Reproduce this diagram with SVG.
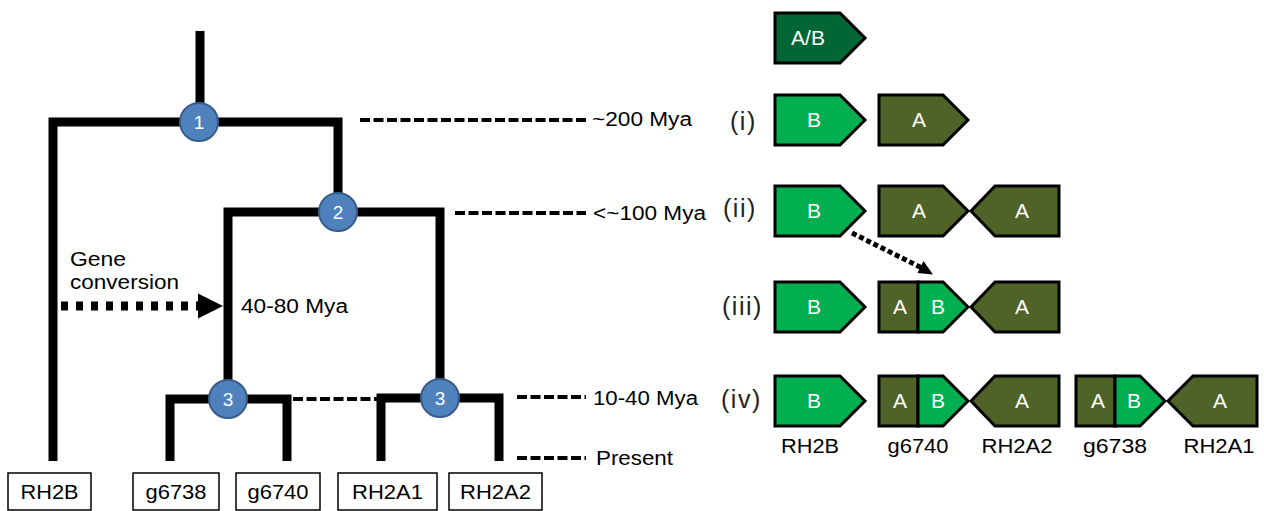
<svg xmlns="http://www.w3.org/2000/svg" width="1264" height="511" viewBox="0 0 1264 511">
<defs>
<style>
.br{fill:none;stroke:#000;stroke-width:9;stroke-linejoin:miter;stroke-linecap:butt}
.dash{fill:none;stroke:#000;stroke-width:4;stroke-dasharray:10 3.5}
.node circle{fill:#4F81BD;stroke:#385D8A;stroke-width:2}
.num{font-family:"Liberation Sans",Arial,sans-serif;font-size:19px;fill:#fff;text-anchor:middle}
.t{font-family:"Liberation Sans",Arial,sans-serif;font-size:20px;fill:#000}
.rn{font-family:"Liberation Sans",Arial,sans-serif;font-size:25px;fill:#222;letter-spacing:1.5px}
.box rect{fill:#fff;stroke:#000;stroke-width:1.5}
.bt{font-family:"Liberation Sans",Arial,sans-serif;font-size:20px;fill:#000;text-anchor:middle}
.g{stroke:#000;stroke-width:3;stroke-linejoin:miter}
.ab{fill:#006633}
.b{fill:#00B050}
.a{fill:#4F6228}
.gt{font-family:"Liberation Sans",Arial,sans-serif;font-size:21px;fill:#fff;text-anchor:middle}
</style>
</defs>
<rect width="1264" height="511" fill="#fff"/>

<g id="connectors">
<path class="br" d="M200,31 V122"/>
<path class="br" d="M53,461 V122 H338 V212"/>
<path class="br" d="M228,399 V212 H440 V398"/>
<path class="br" d="M170,461 V399 H287 V461"/>
<path class="br" d="M381,461 V398 H499 V461"/>
<path class="dash" d="M360,120 H588"/>
<path class="dash" d="M455,213 H586"/>
<path class="dash" d="M293,399 H377"/>
<path class="dash" d="M517,397 H586"/>
<path class="dash" d="M517,458 H586"/>
<path d="M58,306 H198" fill="none" stroke="#000" stroke-width="9" stroke-dasharray="7 8" stroke-dashoffset="-3"/>
<polygon points="198,293.5 223,306 198,318.5" fill="#000"/>
<path d="M852,233 L922,268" fill="none" stroke="#000" stroke-width="5" stroke-dasharray="5 3"/>
<polygon points="933,274.5 917.5,273 923.5,261" fill="#000"/>
</g>

<g id="node1" class="node"><circle cx="199" cy="122" r="19"/><text class="num" x="199" y="129">1</text></g>
<g id="node2" class="node"><circle cx="338" cy="212" r="19"/><text class="num" x="338" y="219">2</text></g>
<g id="node3a" class="node"><circle cx="228" cy="399" r="19"/><text class="num" x="228" y="406">3</text></g>
<g id="node3b" class="node"><circle cx="440" cy="398" r="19"/><text class="num" x="440" y="405">3</text></g>

<g id="labels-tree">
<text class="t" x="70" y="266" textLength="56" lengthAdjust="spacingAndGlyphs">Gene</text>
<text class="t" x="70" y="289" textLength="109" lengthAdjust="spacingAndGlyphs">conversion</text>
<text class="t" x="241" y="313" textLength="107" lengthAdjust="spacingAndGlyphs">40-80 Mya</text>
<text class="t" x="592" y="126" textLength="100" lengthAdjust="spacingAndGlyphs">~200 Mya</text>
<text class="t" x="593" y="220" textLength="113" lengthAdjust="spacingAndGlyphs">&lt;~100 Mya</text>
<text class="t" x="593" y="405" textLength="105" lengthAdjust="spacingAndGlyphs">10-40 Mya</text>
<text class="t" x="596" y="465" textLength="77" lengthAdjust="spacingAndGlyphs">Present</text>
<text class="rn" x="730" y="130">(i)</text>
<text class="rn" x="723" y="217">(ii)</text>
<text class="rn" x="722" y="315">(iii)</text>
<text class="rn" x="721" y="408">(iv)</text>
</g>

<g id="box-RH2B" class="box"><rect x="8" y="473" width="83" height="37"/><text class="bt" x="49.5" y="499" textLength="58" lengthAdjust="spacingAndGlyphs">RH2B</text></g>
<g id="box-g6738" class="box"><rect x="133" y="473" width="86" height="37"/><text class="bt" x="176" y="499" textLength="61" lengthAdjust="spacingAndGlyphs">g6738</text></g>
<g id="box-g6740" class="box"><rect x="236" y="473" width="84" height="37"/><text class="bt" x="278" y="499" textLength="61" lengthAdjust="spacingAndGlyphs">g6740</text></g>
<g id="box-RH2A1" class="box"><rect x="338" y="473" width="99" height="37"/><text class="bt" x="387.5" y="499" textLength="71" lengthAdjust="spacingAndGlyphs">RH2A1</text></g>
<g id="box-RH2A2" class="box"><rect x="449" y="473" width="93" height="37"/><text class="bt" x="495.5" y="499" textLength="71" lengthAdjust="spacingAndGlyphs">RH2A2</text></g>

<g id="gene-AB">
<path class="g ab" d="M775,13 H840 L865,38 L840,63 H775 Z"/>
<text class="gt" x="808" y="45">A/B</text>
</g>

<g id="row-i">
<path class="g b" d="M775,95 H840 L865,120 L840,145 H775 Z"/>
<text class="gt" x="814" y="127">B</text>
<path class="g a" d="M879,95 H943 L968,120 L943,145 H879 Z"/>
<text class="gt" x="919" y="127">A</text>
</g>

<g id="row-ii">
<path class="g b" d="M775,186 H840 L865,211 L840,236 H775 Z"/>
<text class="gt" x="814" y="218">B</text>
<path class="g a" d="M879,186 H943 L968,211 L943,236 H879 Z"/>
<text class="gt" x="919" y="218">A</text>
<path class="g a" d="M1059,186 H995 L971,211 L995,236 H1059 Z"/>
<text class="gt" x="1022" y="218">A</text>
</g>

<g id="row-iii">
<path class="g b" d="M775,282 H840 L865,307 L840,332 H775 Z"/>
<text class="gt" x="814" y="314">B</text>
<path class="g a" d="M879,282 H918 V332 H879 Z"/>
<path class="g b" d="M918,282 H943 L968,307 L943,332 H918 Z"/>
<text class="gt" x="900" y="314">A</text>
<text class="gt" x="938" y="314">B</text>
<path class="g a" d="M1059,282 H995 L971,307 L995,332 H1059 Z"/>
<text class="gt" x="1022" y="314">A</text>
</g>

<g id="row-iv">
<path class="g b" d="M775,376 H840 L865,401 L840,426 H775 Z"/>
<text class="gt" x="814" y="408">B</text>
<path class="g a" d="M879,376 H918 V426 H879 Z"/>
<path class="g b" d="M918,376 H943 L968,401 L943,426 H918 Z"/>
<text class="gt" x="900" y="408">A</text>
<text class="gt" x="938" y="408">B</text>
<path class="g a" d="M1059,376 H995 L971,401 L995,426 H1059 Z"/>
<text class="gt" x="1022" y="408">A</text>
<path class="g a" d="M1076,376 H1115 V426 H1076 Z"/>
<path class="g b" d="M1115,376 H1140 L1165,401 L1140,426 H1115 Z"/>
<text class="gt" x="1098" y="408">A</text>
<text class="gt" x="1134" y="408">B</text>
<path class="g a" d="M1257,376 H1193 L1168,401 L1193,426 H1257 Z"/>
<text class="gt" x="1220" y="408">A</text>
</g>

<g id="gene-labels">
<text class="bt" x="810" y="453" textLength="58" lengthAdjust="spacingAndGlyphs">RH2B</text>
<text class="bt" x="918" y="453" textLength="61" lengthAdjust="spacingAndGlyphs">g6740</text>
<text class="bt" x="1017" y="453" textLength="71" lengthAdjust="spacingAndGlyphs">RH2A2</text>
<text class="bt" x="1115" y="453" textLength="64" lengthAdjust="spacingAndGlyphs">g6738</text>
<text class="bt" x="1219" y="453" textLength="71" lengthAdjust="spacingAndGlyphs">RH2A1</text>
</g>
</svg>
